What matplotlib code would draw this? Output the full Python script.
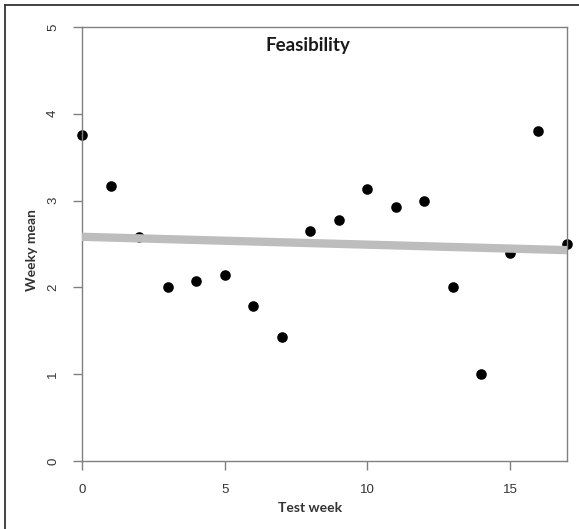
import numpy as np
import matplotlib
matplotlib.use("Agg")
import matplotlib.pyplot as plt
from matplotlib.lines import Line2D

weeks = [0, 1, 2, 3, 4, 5, 6, 7, 8, 9, 10, 11, 12, 13, 14, 15, 16, 17]
weekly_mean = [3.75, 3.17, 2.58, 2.0, 2.07, 2.14, 1.78, 1.43, 2.65, 2.78,
               3.13, 2.93, 3.0, 2.0, 1.0, 2.4, 3.8, 2.5]
x_ticks = [0, 5, 10, 15]
y_ticks = [0, 1, 2, 3, 4, 5]

W, H = 579, 529
fig = plt.figure(figsize=(W / 100, H / 100), dpi=100)
ax = fig.add_axes([82 / W, 1 - 461 / H, (567 - 82) / W, (461 - 27) / H])

x = np.array(weeks, dtype=float)
y = np.array(weekly_mean, dtype=float)
ax.scatter(x, y, s=58, color="black", zorder=2, clip_on=False, linewidths=0)

slope, intercept = np.polyfit(x, y, 1)
xl = np.array([0, 17], dtype=float)
ax.plot(xl, intercept + slope * xl, color="#bdbdbd", lw=6.0, zorder=3,
        solid_capstyle="butt")

ax.set_xlim(0, 17)
ax.set_ylim(0, 5)
ax.set_xticks(x_ticks)
ax.set_yticks(y_ticks)
for s in ax.spines.values():
    s.set_color("#808080")
    s.set_linewidth(1.0)
ax.tick_params(axis="both", direction="out", length=6.5, width=1.0,
               color="#808080", labelcolor="#333333", labelsize=9.5)
ax.tick_params(axis="x", pad=10)
ax.tick_params(axis="y", pad=10)
for lab in ax.get_yticklabels():
    lab.set_rotation(90)
    lab.set_va("center")
for lab in ax.get_xticklabels():
    lab.set_fontfamily("Liberation Sans")
for lab in ax.get_yticklabels():
    lab.set_fontfamily("Liberation Sans")

fig.text(308 / W, 1 - 46 / H, "Feasibility", ha="center", va="center",
         fontsize=13.5, fontweight="bold", family="Lato", color="#1a1a1a")
fig.text(310 / W, 1 - 508 / H, "Test week", ha="center", va="center",
         fontsize=10, fontweight="bold", family="Lato", color="#333333")
fig.text(32 / W, 1 - 250 / H, "Weeky mean", ha="center", va="center",
         rotation=90, fontsize=10, fontweight="bold", family="Lato",
         color="#333333")

# outer frame (top and left edges visible)
fig.add_artist(Line2D([5 / W, 1], [1 - 5 / H, 1 - 5 / H], color="#333333",
                      lw=1.3, transform=fig.transFigure))
fig.add_artist(Line2D([5 / W, 5 / W], [0, 1 - 5 / H], color="#333333",
                      lw=1.3, transform=fig.transFigure))

fig.savefig("out.png", dpi=100)
